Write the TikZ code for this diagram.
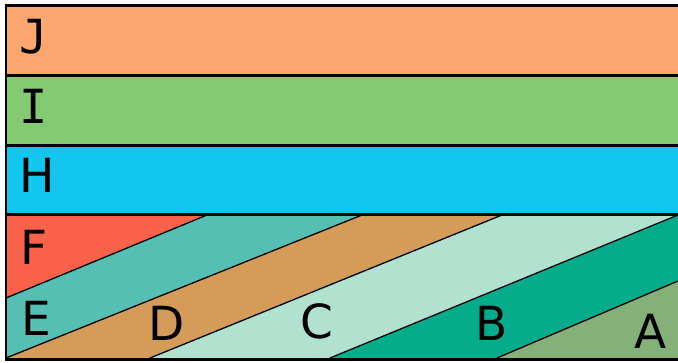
\documentclass[tikz,border=0pt]{standalone}
\usepackage{fontspec}
\setmainfont{DejaVu Sans}
\newfontfamily\monolbl{DejaVu Sans Mono}
\definecolor{cJ}{HTML}{FCA670}
\definecolor{cI}{HTML}{82CB73}
\definecolor{cH}{HTML}{12C6EE}
\definecolor{cF}{HTML}{FA624A}
\definecolor{cE}{HTML}{55BFB4}
\definecolor{cD}{HTML}{D49C58}
\definecolor{cC}{HTML}{B1E2CF}
\definecolor{cB}{HTML}{04AC8C}
\definecolor{cA}{HTML}{86B07A}
\tikzset{
  thick border/.style={draw=black,line width=3pt},
  diag/.style={draw=black,line width=1.3pt,line cap=round},
  lbl/.style={inner sep=0pt,anchor=center,font=\fontsize{47}{47}\selectfont}
}
\begin{document}
\begin{tikzpicture}[x=1pt,y=-1pt]
\useasboundingbox (0,0) rectangle (678,363);
% bands
\fill[cJ] (6,5.5) rectangle (678,75.5);
\fill[cI] (6,75.5) rectangle (678,145.5);
\fill[cH] (6,145.5) rectangle (678,215);
% diagonal regions
\fill[cF] (6,215) -- (207,215) -- (6,298) -- cycle;
\fill[cE] (6,298) -- (207,215) -- (362,215) -- (6,358) -- cycle;
\fill[cD] (6,358) -- (362,215) -- (502,215) -- (150,358) -- cycle;
\fill[cC] (150,358) -- (502,215) -- (678,215) -- (330,358) -- cycle;
\fill[cB] (330,358) -- (678,215) -- (678,281) -- (497,358) -- cycle;
\fill[cA] (497,358) -- (678,281) -- (678,358) -- cycle;
% coordinates
\coordinate (fe1) at (6,298);   \coordinate (fe2) at (207,215);
\coordinate (ed1) at (6,358);   \coordinate (ed2) at (362,215);
\coordinate (dc1) at (150,358); \coordinate (dc2) at (502,215);
\coordinate (cb1) at (330,358); \coordinate (cb2) at (678,215);
\coordinate (ba1) at (497,358); \coordinate (ba2) at (678,281);
\draw[diag] (fe1) -- (fe2);
\draw[diag] (ed1) -- (ed2);
\draw[diag] (dc1) -- (dc2);
\draw[diag] (cb1) -- (cb2);
\draw[diag] (ba1) -- (ba2);
% band borders
\draw[thick border] (6,75.5) -- (680,75.5);
\draw[thick border] (6,145.5) -- (680,145.5);
\draw[thick border] (6,215) -- (680,215);
\draw[thick border,line width=2.5pt] (680,5.5) -- (6,5.5) -- (6,359.5) -- (680,359.5);
% labels
\node[lbl] (J) at (34,37) {\monolbl J};
\node[lbl] (I) at (34,106) {\monolbl I};
\node[lbl] (H) at (37,175.5) {H};
\node[lbl] (F) at (34,247.5) {F};
\node[lbl] (E) at (36,318.5) {E};
\node[lbl] (D) at (167,323) {D};
\node[lbl] (C) at (317,321) {C};
\node[lbl] (B) at (492,323) {B};
\node[lbl] (A) at (651,331) {A};
\end{tikzpicture}
\end{document}
